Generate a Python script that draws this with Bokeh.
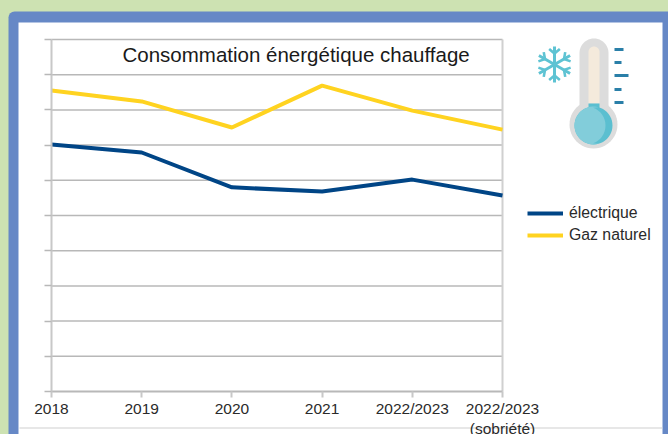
import math
from bokeh.embed import file_html
from bokeh.resources import INLINE
from bokeh.plotting import figure
from bokeh.models import (Range1d, Legend, LegendItem, Label, BoxAnnotation, PolyAnnotation,
                          FixedTicker, LinearAxis)

categories = ["2018", "2019", "2020", "2021", "2022/2023", "2022/2023\n(sobriété)"]
electrique = [7.02, 6.79, 5.80, 5.68, 6.02, 5.57]
gaz_naturel = [8.55, 8.24, 7.50, 8.69, 7.98, 7.44]
y_ticks = [0, 1, 2, 3, 4, 5, 6, 7, 8, 9, 10]
title_text = "Consommation énergétique chauffage"

W, H = 668, 434
GREEN, BLUE, GRID = "#cde2b2", "#6688c6", "#b8b8b8"
FONT = "Liberation Sans"
X0, X1, Y0, Y1 = 51, 502, 391, 39  # pixel position of the plot box inside the canvas
n = len(categories) - 1
dx, dy = (X1 - X0) / n, (Y0 - Y1) / y_ticks[-1]

p = figure(width=W, height=H, output_backend="svg", toolbar_location=None,
           x_range=Range1d(-X0 / dx, (W - X0) / dx), y_range=Range1d(-(H - Y0) / dy, Y0 / dy),
           min_border=0, x_axis_location=None, y_axis_location=None)
p.background_fill_color = GREEN
p.border_fill_color = GREEN
p.outline_line_color = None
p.xgrid.visible = False
p.ygrid.visible = False


def box(l, t, r, b, color, **kw):
    p.add_layout(BoxAnnotation(left=l, right=r, top=H - t, bottom=H - b, left_units="screen", right_units="screen",
                               top_units="screen", bottom_units="screen", fill_color=color, fill_alpha=1,
                               line_color=None, level="image", editable=False, **kw))


box(8, 11, W, H, BLUE, border_radius=(6, 0, 0, 0))
box(18, 22, 662, H, "#ffffff")
box(19, 427, 662, 428, "#d0d0d0")


def poly(xs, ys, color, level="image"):
    p.add_layout(PolyAnnotation(xs=list(xs), ys=[H - v for v in ys], xs_units="screen", ys_units="screen",
                                fill_color=color, fill_alpha=1, line_color=None, level=level, editable=False))


def circle_pts(cx, cy, r, a0=0.0, a1=360.0, n=48):
    a = [math.radians(a0 + (a1 - a0) * i / n) for i in range(n + 1)]
    return [cx + r * math.cos(t) for t in a], [cy + r * math.sin(t) for t in a]


def capsule(cx, top, half, bottom, color):
    xs, ys = circle_pts(cx, top + half, half, 180, 360, 24)
    xs += [cx + half, cx - half]
    ys += [bottom, bottom]
    poly(xs, ys, color)


def bar(x0, y0, x1, y1, w, color):
    ddx, ddy = x1 - x0, y1 - y0
    m = math.hypot(ddx, ddy)
    ox, oy = -ddy / m * w / 2, ddx / m * w / 2
    poly([x0 + ox, x1 + ox, x1 - ox, x0 - ox], [y0 + oy, y1 + oy, y1 - oy, y0 - oy], color)


# thermometer
capsule(593.5, 38, 14.5, 115, "#dcdcdc")
poly(*circle_pts(593, 124, 24), "#dcdcdc")
capsule(593.5, 46, 5.5, 103, "#f4eadc")
poly([588, 599, 599, 588], [103, 103, 115, 115], "#5bbfd0")
poly(*circle_pts(593, 125, 19), "#5bbfd0")
xsl, ysl = circle_pts(593, 125, 19, 285, 75, 32)
xsc, ysc = circle_pts(586, 125, 19, 70, -70, 16)
poly(xsl + xsc, ysl + ysc, "#82cdda")
for ty, x_end in zip([49, 62, 75, 89, 102], [623, 621, 628, 621, 623]):
    bar(614, ty, x_end, ty, 3, "#2a7fa8")

# snowflake
cx, cy, R = 554, 64, 18
for k in range(6):
    t = math.radians(30 + 60 * k)
    ux, uy = math.cos(t), math.sin(t)
    bar(cx, cy, cx + R * ux, cy + R * uy, 3, "#5ec3d3")
    for s in (-1, 1):
        t2 = t + s * math.radians(50)
        bx, by = cx + 11 * ux, cy + 11 * uy
        bar(bx, by, bx + 7 * math.cos(t2), by + 7 * math.sin(t2), 2.6, "#5ec3d3")

# grid lines behind the data
for t in y_ticks[1:]:
    p.line([0, n], [t, t], line_color=GRID, line_width=1.5)
p.line([n, n], [y_ticks[0], y_ticks[-1]], line_color="#d0d0d0", line_width=2)

x = list(range(len(categories)))
r1 = p.line(x, electrique, line_color="#004586", line_width=4)
r2 = p.line(x, gaz_naturel, line_color="#ffd320", line_width=4)

# axes fixed at the plot box, taking no room of their own
yaxis = LinearAxis(ticker=FixedTicker(ticks=y_ticks), major_label_overrides={t: "" for t in y_ticks},
                   axis_line_color="#c8c8c8", axis_line_width=2, major_tick_line_color=GRID, major_tick_line_width=1.5,
                   major_tick_out=7, major_tick_in=0, minor_tick_line_color=None,
                   fixed_location=0, bounds=(y_ticks[0], y_ticks[-1]))
p.add_layout(yaxis, "left")
xaxis = LinearAxis(ticker=FixedTicker(ticks=x),
                   major_label_overrides={i: c for i, c in enumerate(categories)},
                   major_label_text_font=FONT, major_label_text_font_size="15.5px", major_label_text_color="#2a2a2a",
                   major_label_standoff=2, major_label_orientation="horizontal",
                   axis_line_color=GRID, axis_line_width=2, major_tick_line_color="#c8c8c8", major_tick_line_width=2,
                   major_tick_out=6, major_tick_in=0, minor_tick_line_color=None,
                   fixed_location=0, bounds=(0, n))
p.add_layout(xaxis, "below")

legend = Legend(items=[LegendItem(label="électrique", renderers=[r1]), LegendItem(label="Gaz naturel", renderers=[r2])],
                location=(527, H - 244), orientation="vertical", background_fill_alpha=0, border_line_color=None,
                label_text_font=FONT, label_text_font_size="15.8px", label_text_color="#2a2a2a",
                glyph_width=36, glyph_height=18, label_standoff=6, spacing=4, padding=4, margin=0)
p.add_layout(legend, "center")

p.add_layout(Label(x=122, y=H - 54, x_units="screen", y_units="screen", text=title_text, text_font=FONT,
                   text_font_size="20.5px", text_color="#1a1a1a", text_baseline="middle"))

html = file_html(p, INLINE)
html = html.replace("</head>", "<style>html,body{margin:0;overflow:hidden;background:#cde2b2}</style></head>")
open("out.html", "w").write(html)
